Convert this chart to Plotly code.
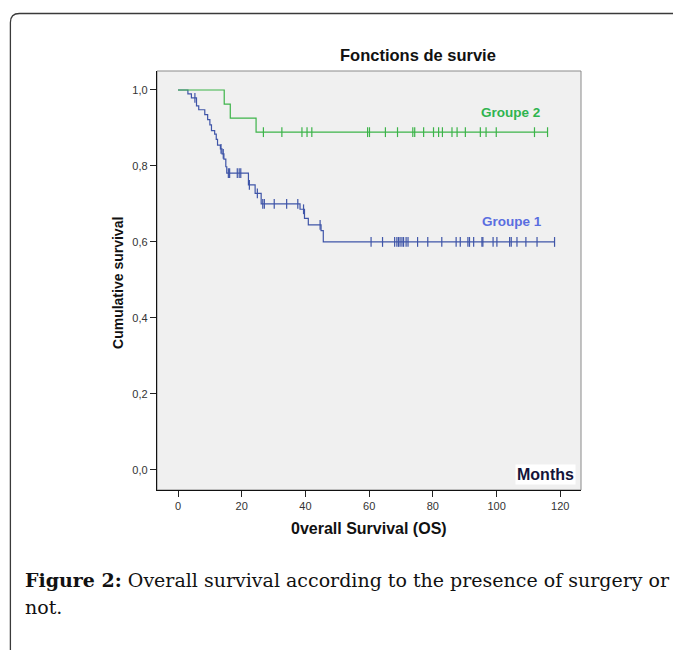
import numpy as np
import plotly.graph_objects as go

# ---- data ----
g1_step_time = [0, 3.1, 4.2, 5.8, 6.5, 8.4, 9.3, 10.0, 10.5, 11.5, 12.0, 12.4, 13.3, 13.8,
                14.4, 15.0, 15.3, 22.1, 24.2, 26.1, 38.3, 39.7, 40.9, 44.9, 45.6, 118.2]
g1_step_surv = [1.0, 0.99, 0.979, 0.958, 0.948, 0.935, 0.922, 0.908, 0.893, 0.884, 0.870,
                0.855, 0.845, 0.832, 0.818, 0.798, 0.781, 0.750, 0.728, 0.700, 0.686, 0.662,
                0.645, 0.630, 0.600, 0.600]
g1_censor = [5.3, 13.5, 14.2, 15.8, 16.2, 18.6, 19.2, 19.7, 22.4, 24.9, 26.6, 27.1, 30.2,
             34.1, 37.6, 39.4, 44.6, 60.6, 64.2, 68.0, 68.7, 69.2, 69.7, 70.3, 70.8, 71.6,
             72.2, 75.2, 78.4, 82.8, 87.3, 88.6, 91.0, 91.5, 92.8, 95.4, 95.7, 98.9, 100.1,
             104.1, 104.6, 106.4, 109.2, 112.7, 118.2]

g2_step_time = [0, 14.5, 16.4, 24.5, 116.0]
g2_step_surv = [1.0, 0.963, 0.926, 0.889, 0.889]
g2_censor = [26.8, 32.6, 38.9, 40.5, 42.0, 59.5, 60.1, 65.1, 68.9, 73.7, 74.3, 77.1, 80.2,
             81.8, 83.0, 86.0, 87.6, 90.2, 94.9, 96.7, 99.9, 111.9, 116.0]

y_tickvals = [0.0, 0.2, 0.4, 0.6, 0.8, 1.0]
y_ticktext = ["0,0", "0,2", "0,4", "0,6", "0,8", "1,0"]
x_tickvals = [0, 20, 40, 60, 80, 100, 120]

series_names = ["Groupe 1", "Groupe 2"]
# ----------------------------------------

BLUE = "#3f55a8"
GREEN = "#3cb449"

def surv_at(times, survs, t):
    times = np.asarray(times)
    idx = np.searchsorted(times, t, side="right") - 1
    return np.asarray(survs)[idx]

fig = go.Figure()
for st, ss, cen, col in [(g1_step_time, g1_step_surv, g1_censor, BLUE),
                         (g2_step_time, g2_step_surv, g2_censor, GREEN)]:
    fig.add_trace(go.Scatter(x=st, y=ss, mode="lines", line=dict(color=col, width=1.2, shape="hv"),
                             hoverinfo="skip", showlegend=False))
    fig.add_trace(go.Scatter(x=cen, y=surv_at(st, ss, cen), mode="markers",
                             marker=dict(symbol="line-ns-open", size=7, color=col,
                                         line=dict(color=col, width=1.2)),
                             hoverinfo="skip", showlegend=False))

# the page body adds an 8px margin, so lay out in page pixels minus 8
OFF = 8
W, H = 681 - OFF, 650 - OFF
L = 157 - OFF
T = 71 - OFF
R = W - (580.7 - OFF)
B = H - (490 - OFF)
pw, ph = W - L - R, H - T - B

def px(x):
    return (x - OFF - L) / pw

def py(y):
    return (H - B - (y - OFF)) / ph

# outer frame with rounded top-left corner
x0, y0, r = px(10.5), py(13.5), 9
path = (f"M {x0},{py(660)} L {x0},{py(13.5 + r)} Q {x0},{y0} {px(10.5 + r)},{y0} L {px(700)},{y0}")
fig.add_shape(type="path", path=path, xref="paper", yref="paper",
              line=dict(color="#3a3a3a", width=1.3), layer="above")
# plot box
fig.add_shape(type="rect", xref="paper", yref="paper", x0=0, y0=0, x1=1, y1=1,
              line=dict(color="#8a8a8a", width=1), layer="below")

fig.update_layout(
    width=W, height=H, margin=dict(l=L, r=R, t=T, b=B),
    paper_bgcolor="white", plot_bgcolor="#f0f0f0",
    font=dict(family="Liberation Sans, Arial", color="#222"),
    xaxis=dict(range=[-6.6, 126.5], tickvals=x_tickvals, ticks="outside", ticklen=6,
               tickcolor="#222", showline=True, linecolor="#111", linewidth=1.3,
               showgrid=False, zeroline=False, tickfont=dict(size=11, color="#333")),
    yaxis=dict(range=[-0.053, 1.05], tickvals=y_tickvals, ticktext=y_ticktext,
               ticks="outside", ticklen=6, tickcolor="#222", showline=True,
               linecolor="#111", linewidth=1.3, showgrid=False, zeroline=False,
               tickfont=dict(size=11, color="#333")),
)

SERIF = "DejaVu Serif, serif"
ann = [
    dict(text="<b>Fonctions de survie</b>", x=px(418), y=py(55), font=dict(size=16.5, color="#111"),
         xanchor="center", yanchor="middle"),
    dict(text="<b>Cumulative survival</b>", x=px(118), y=py(283), textangle=-90,
         font=dict(size=14, color="#111"), xanchor="center", yanchor="middle"),
    dict(text="<b>0verall Survival (OS)</b>", x=px(369), y=py(528),
         font=dict(size=16, color="#111"), xanchor="center", yanchor="middle"),
    dict(text="<b>" + series_names[1] + "</b>", x=px(510), y=py(113),
         font=dict(size=13.5, color="#2fb44f"), xanchor="center", yanchor="middle"),
    dict(text="<b>" + series_names[0] + "</b>", x=px(512), y=py(221),
         font=dict(size=13.5, color="#5a6ee0"), xanchor="center", yanchor="middle"),
    dict(text="<b>Months</b>", x=px(576), y=py(474.5), bgcolor="white", borderpad=1,
         font=dict(size=16, color="#14143a"), xanchor="right", yanchor="middle"),
    dict(text="<b>Figure 2:</b> Overall survival according to the presence of surgery or",
         x=px(23), y=py(580), font=dict(family=SERIF, size=19, color="#111"),
         xanchor="left", yanchor="middle"),
    dict(text="not.", x=px(23), y=py(607),
         font=dict(family=SERIF, size=19, color="#111"),
         xanchor="left", yanchor="middle"),
]
for a in ann:
    fig.add_annotation(xref="paper", yref="paper", showarrow=False, **a)

fig.write_html("out.html")
